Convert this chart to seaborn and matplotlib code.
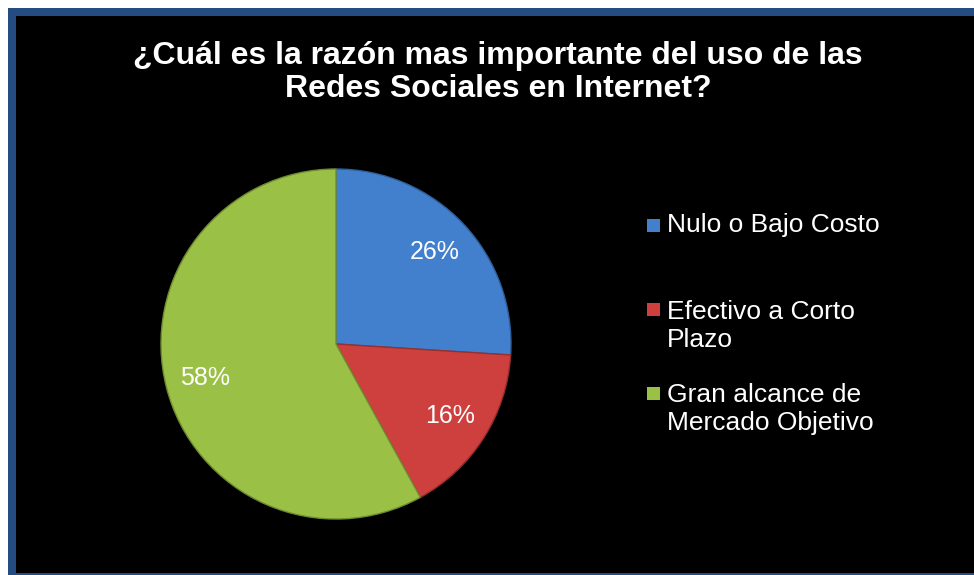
import matplotlib
matplotlib.use("Agg")
import matplotlib.pyplot as plt
import seaborn as sns
from matplotlib.patches import Rectangle

# Survey answers and their shares (percent)
categories = ["Nulo o Bajo Costo", "Efectivo a Corto\nPlazo", "Gran alcance de\nMercado Objetivo"]
shares = [26, 16, 58]
title_text = "¿Cuál es la razón mas importante del uso de las\nRedes Sociales en Internet?"
slice_colors = ["#4280CD", "#CD403E", "#9BC046"]
edge_colors = ["#2F5E98", "#9A2E2C", "#6F8C30"]

sns.set_theme(style="white")
plt.rcParams["font.family"] = ["Liberation Sans", "DejaVu Sans"]
palette = sns.color_palette(slice_colors)

W, H = 974, 575
fig = plt.figure(figsize=(W / 100, H / 100), dpi=100, facecolor="white")

# Dark panel with a blue frame
fig.patches.append(Rectangle((8 / W, -7 / H), 1.0, 574 / H, transform=fig.transFigure,
                             facecolor="#244C80", edgecolor="none", zorder=-3))
fig.patches.append(Rectangle((16 / W, 2 / H), 1.0, 557 / H, transform=fig.transFigure,
                             facecolor="black", edgecolor="none", zorder=-2))

# Title (baseline of the last line)
fig.text(498 / W, 1 - 97 / H, title_text, ha="center", va="baseline", color="white",
         fontsize=23, fontweight="bold", linespacing=1.12, multialignment="center")

# Pie
cx, cy, r = 336, 344, 175
ax = fig.add_axes([(cx - r) / W, (H - cy - r) / H, 2 * r / W, 2 * r / H], zorder=2)
ax.set_facecolor("none")
wedges, _, pct_texts = ax.pie(
    shares, colors=palette, startangle=90, counterclock=False,
    autopct=lambda p: f"{p:.0f}%", pctdistance=0.77,
    wedgeprops=dict(linewidth=1.0),
    textprops=dict(color="white", fontsize=18),
)
for w, ec in zip(wedges, edge_colors):
    w.set_edgecolor(ec)
ax.set_xlim(-1.0, 1.0)
ax.set_ylim(-1.0, 1.0)
ax.set_aspect("equal")
ax.axis("off")

# Legend drawn as square keys with labels (baseline of each label's last line)
key_tops = [219, 303, 387]
last_baselines = [232, 347, 430]
for label, color, top, base in zip(categories, palette, key_tops, last_baselines):
    fig.patches.append(Rectangle((647 / W, 1 - (top + 13) / H), 13 / W, 13 / H,
                                 transform=fig.transFigure, facecolor=color,
                                 edgecolor="none", zorder=2))
    fig.text(667 / W, 1 - base / H, label, ha="left", va="baseline", color="white",
             fontsize=19, linespacing=1.2)

fig.savefig("out.png", dpi=100, facecolor="white")
